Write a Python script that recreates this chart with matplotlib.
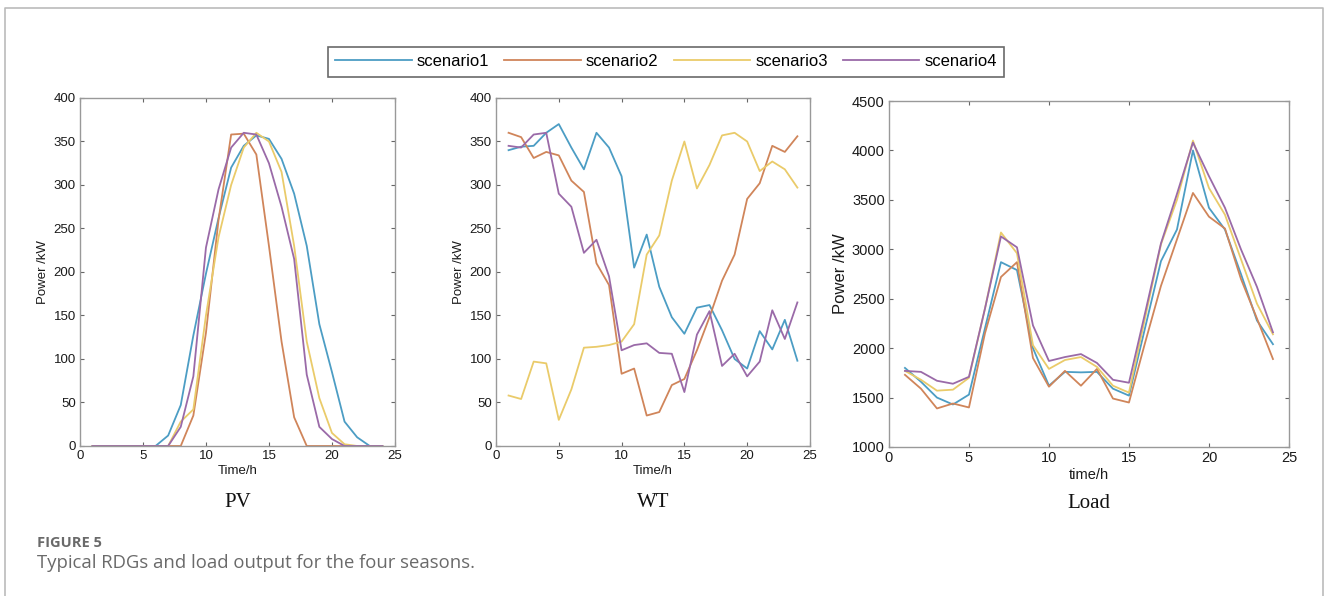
import matplotlib
matplotlib.use("Agg")
import matplotlib.pyplot as plt
from matplotlib.lines import Line2D

hours = list(range(1, 25))
scenario_names = ["scenario1", "scenario2", "scenario3", "scenario4"]
colors = ["#4c9dc4", "#d0855a", "#eacb6a", "#9a6aa8"]

# PV output, kW
pv_s1 = [0, 0, 0, 0, 0, 0, 12, 47, 127, 198, 262, 320, 345, 357, 353, 330, 290, 230, 140, 85, 28, 10, 0, 0]
pv_s2 = [0, 0, 0, 0, 0, 0, 0, 0, 35, 130, 260, 358, 359, 335, 230, 120, 33, 0, 0, 0, 0, 0, 0, 0]
pv_s3 = [0, 0, 0, 0, 0, 0, 0, 28, 42, 150, 240, 300, 343, 360, 350, 315, 230, 120, 55, 15, 2, 0, 0, 0]
pv_s4 = [0, 0, 0, 0, 0, 0, 0, 22, 80, 228, 295, 343, 360, 358, 325, 275, 215, 82, 22, 8, 0, 0, 0, 0]

# WT output, kW
wt_s1 = [340, 344, 345, 360, 370, 343, 318, 360, 343, 310, 205, 243, 183, 148, 129, 159, 162, 133, 100, 89, 132, 111, 145, 98]
wt_s2 = [360, 355, 331, 338, 334, 305, 292, 210, 185, 83, 89, 35, 39, 70, 77, 110, 148, 190, 220, 284, 302, 345, 338, 356]
wt_s3 = [58, 54, 97, 95, 30, 65, 113, 114, 116, 120, 140, 220, 242, 305, 350, 296, 323, 357, 360, 350, 316, 327, 318, 297]
wt_s4 = [345, 343, 358, 360, 290, 275, 222, 237, 195, 110, 116, 118, 107, 106, 62, 128, 155, 92, 106, 80, 97, 156, 123, 165]

# load, kW
load_s1 = [1800, 1660, 1500, 1430, 1530, 2200, 2870, 2790, 2000, 1620, 1760, 1755, 1760, 1590, 1520, 2200, 2880, 3200, 4000, 3420, 3200, 2750, 2280, 2040]
load_s2 = [1730, 1590, 1390, 1440, 1400, 2150, 2720, 2870, 1900, 1610, 1770, 1620, 1790, 1490, 1450, 2050, 2630, 3100, 3570, 3330, 3210, 2700, 2300, 1890]
load_s3 = [1770, 1680, 1570, 1580, 1700, 2400, 3170, 2960, 2030, 1790, 1880, 1910, 1810, 1620, 1550, 2300, 3050, 3500, 4100, 3620, 3350, 2900, 2450, 2140]
load_s4 = [1770, 1760, 1670, 1640, 1710, 2400, 3130, 3020, 2230, 1870, 1910, 1940, 1850, 1680, 1650, 2350, 3060, 3560, 4080, 3740, 3420, 3000, 2620, 2160]

panels = [
    ("PV", "Time/h", [pv_s1, pv_s2, pv_s3, pv_s4], (0, 400), [0, 50, 100, 150, 200, 250, 300, 350, 400]),
    ("WT", "Time/h", [wt_s1, wt_s2, wt_s3, wt_s4], (0, 400), [0, 50, 100, 150, 200, 250, 300, 350, 400]),
    ("Load", "time/h", [load_s1, load_s2, load_s3, load_s4], (1000, 4500), [1000, 1500, 2000, 2500, 3000, 3500, 4000, 4500]),
]
positions = [
    [0.0602, 0.2517, 0.2372, 0.5839],
    [0.3735, 0.2517, 0.2364, 0.5839],
    [0.6694, 0.2500, 0.3012, 0.5805],
]

plt.rcParams["font.family"] = ["Liberation Sans", "DejaVu Sans"]

fig = plt.figure(figsize=(13.28, 5.96), dpi=100)

for k, (name, xlab, series, ylim, yticks) in enumerate(panels):
    ax = fig.add_axes(positions[k])
    for vals, c in zip(series, colors):
        ax.plot(hours, vals, color=c, lw=1.3)
    ax.set_xlim(0, 25)
    ax.set_ylim(*ylim)
    ax.set_xticks([0, 5, 10, 15, 20, 25])
    ax.set_yticks(yticks)
    big = name == "Load"
    fs = 10.5 if big else 9.5
    ax.tick_params(direction="in", top=True, right=True, length=3, width=0.8,
                   color="#666666", labelsize=fs, labelcolor="#1a1a1a", pad=3)
    for s in ax.spines.values():
        s.set_color("#999999")
        s.set_linewidth(1.0)
    ax.set_xlabel(xlab, fontsize=fs, color="#1a1a1a", labelpad=2)
    ax.set_ylabel("Power /kW", fontsize=12 if big else 9.5, color="#1a1a1a", labelpad=3)
    ax.text(0.5, -0.163, name, transform=ax.transAxes, ha="center", va="center",
            fontsize=15, family="Liberation Serif", color="#111111")

handles = [Line2D([], [], color=c, lw=1.3) for c in colors]
fig.legend(handles, scenario_names, loc="center", bbox_to_anchor=(0.5015, 0.8968),
           ncol=4, fontsize=12, handlelength=4.6, handletextpad=0.3, columnspacing=0.9,
           frameon=True, fancybox=False, edgecolor="#444444", borderpad=0.45)
leg = fig.legends[0]
leg.get_frame().set_linewidth(1.2)

fig.text(37 / 1328, 1 - 543 / 596, "FIGURE 5", fontsize=10.5, fontweight="bold",
         family="Open Sans", color="#6a6a6a", va="center")
fig.text(37 / 1328, 1 - 563 / 596, "Typical RDGs and load output for the four seasons.",
         fontsize=13.3, family="Open Sans", color="#6a6a6a", va="center")

# light page frame
fig.add_artist(Line2D([4.5 / 1328, 4.5 / 1328, 1323 / 1328, 1323 / 1328],
                      [0, 1 - 8 / 596, 1 - 8 / 596, 0],
                      transform=fig.transFigure, color="#bbbbbb", lw=1.2))

fig.savefig("out.png", dpi=100)
